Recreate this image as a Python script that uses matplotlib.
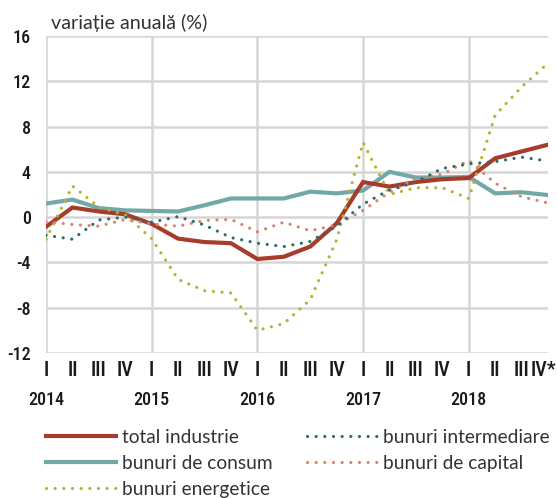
import matplotlib

matplotlib.use("Agg")
import matplotlib.pyplot as plt
import matplotlib.transforms as mtransforms
from matplotlib import font_manager
from matplotlib.lines import Line2D

plt.rcParams["font.family"] = ["Lato", "DejaVu Sans"]
plt.rcParams["axes.unicode_minus"] = False

# font ingust pentru axe, daca exista unul
_installed = {f.name for f in font_manager.fontManager.ttflist}
_narrow = [n for n in ("Liberation Sans Narrow", "Roboto Condensed", "Open Sans Condensed",
                       "Noto Sans Condensed", "DejaVu Sans Condensed") if n in _installed]
TICK_FONT = _narrow[0] if _narrow else "Roboto"
TICK_SCALE = 1.0 if _narrow else 0.9

QUARTERS = ["I", "II", "III", "IV"] * 4 + ["I", "II", "III", "IV*"]
YEARS = ["2014", "2015", "2016", "2017", "2018"]

total_industrie = [-0.85, 0.85, 0.5, 0.25, -0.6, -1.9, -2.2, -2.3, -3.7, -3.5,
                   -2.6, -0.55, 3.1, 2.7, 3.1, 3.35, 3.45, 5.2, 5.8, 6.4]
bunuri_consum = [1.2, 1.55, 0.8, 0.6, 0.55, 0.5, 1.05, 1.65, 1.65, 1.65,
                 2.25, 2.1, 2.35, 4.0, 3.5, 3.5, 3.55, 2.1, 2.2, 1.95]
bunuri_energetice = [-1.95, 2.75, 0.9, 0.2, -1.9, -5.5, -6.5, -6.7, -10.0, -9.4,
                     -7.3, -2.0, 6.6, 2.0, 2.6, 2.6, 1.65, 9.0, 11.5, 13.6]
bunuri_intermediare = [-1.6, -1.95, -0.25, 0.0, -0.45, 0.05, -0.7, -1.8, -2.3, -2.6,
                       -2.15, -0.8, 1.15, 2.4, 3.1, 4.3, 4.7, 4.9, 5.3, 4.95]
bunuri_capital = [-0.4, -0.65, -0.8, -0.2, -0.6, -0.8, -0.3, -0.2, -1.3, -0.45,
                  -1.2, -0.7, 0.6, 2.2, 3.4, 3.8, 5.0, 3.0, 1.8, 1.25]

RED = "#a83c2c"
TEAL = "#72a9a8"
DARK_TEAL = "#2a6e6b"
SALMON = "#d8836f"
OLIVE = "#b4b32f"
GRID = "#d6d6d6"
TEXT = "#1a1a1a"

DOTS = (0, (0.01, 2.7))

fig = plt.figure(figsize=(5.57, 4.98), dpi=100)
ax = fig.add_axes([46 / 557, 1 - 353 / 498, 502 / 557, 317 / 498])

x = list(range(len(QUARTERS)))

# liniile continue dedesubt, cele punctate peste ele
ax.plot(x, bunuri_consum, color=TEAL, linewidth=3.0, solid_joinstyle="miter", zorder=3)
ax.plot(x, total_industrie, color=RED, linewidth=3.0, solid_joinstyle="miter", zorder=3)
for series, color in [(bunuri_energetice, OLIVE), (bunuri_capital, SALMON),
                      (bunuri_intermediare, DARK_TEAL)]:
    ax.plot(x, series, color=color, linewidth=2.3, linestyle=DOTS,
            dash_capstyle="round", zorder=4)

ax.set_xlim(0, len(QUARTERS) - 1)
ax.set_ylim(-12, 16)
ax.set_yticks(range(-12, 17, 4))
ax.set_xticks(x)
ax.set_xticklabels(QUARTERS)

# grila: orizontal la fiecare diviziune, vertical doar la inceput de an
for y in range(-12, 17, 4):
    ax.axhline(y, color=GRID, linewidth=1.8, zorder=1)
for i in range(0, len(QUARTERS), 4):
    ax.axvline(i, color=GRID, linewidth=1.8, zorder=1)

for spine in ax.spines.values():
    spine.set_visible(False)

ax.tick_params(axis="both", length=0)
ax.tick_params(axis="y", pad=11)
ax.tick_params(axis="x", pad=6)
for label in ax.get_yticklabels():
    label.set_family(TICK_FONT)
    label.set_fontsize(13 * TICK_SCALE)
    label.set_weight("medium")
    label.set_color(TEXT)
for label in ax.get_xticklabels():
    label.set_family(TICK_FONT)
    label.set_fontsize(14.5 * TICK_SCALE)
    label.set_weight("medium")
    label.set_color(TEXT)

# ultima eticheta (IV*) mutata spre stanga ca sa nu iasa din figura
last = ax.get_xticklabels()[-1]
last.set_transform(last.get_transform()
                   + mtransforms.ScaledTranslation(-5 / 100, 0, fig.dpi_scale_trans))

trans = mtransforms.blended_transform_factory(ax.transData, fig.transFigure)
for k, year in enumerate(YEARS):
    ax.text(k * 4, 1 - 405 / 498, year, transform=trans, ha="center", va="baseline",
            family=TICK_FONT, fontsize=13 * TICK_SCALE, weight="medium", color=TEXT)

fig.text(51 / 557, 1 - 29 / 498, "variație anuală (%)", ha="left", va="baseline",
         fontsize=14.2, color="#333333")

handles = [
    Line2D([], [], color=RED, linewidth=3.0),
    Line2D([], [], color=TEAL, linewidth=3.0),
    Line2D([], [], color=OLIVE, linewidth=2.3, linestyle=DOTS, dash_capstyle="round"),
    Line2D([], [], color=DARK_TEAL, linewidth=2.3, linestyle=DOTS, dash_capstyle="round"),
    Line2D([], [], color=SALMON, linewidth=2.3, linestyle=DOTS, dash_capstyle="round"),
]
labels = ["total industrie", "bunuri de consum", "bunuri energetice",
          "bunuri intermediare", "bunuri de capital"]
fig.legend(handles, labels, loc="upper left", bbox_to_anchor=(46 / 557, 1 - 429 / 498),
           ncol=2, frameon=False, fontsize=13.8, handlelength=3.65, handletextpad=0.31,
           columnspacing=1.8, labelspacing=0.46, borderpad=0, borderaxespad=0,
           labelcolor="#333333")

fig.savefig("out.png", dpi=100)
